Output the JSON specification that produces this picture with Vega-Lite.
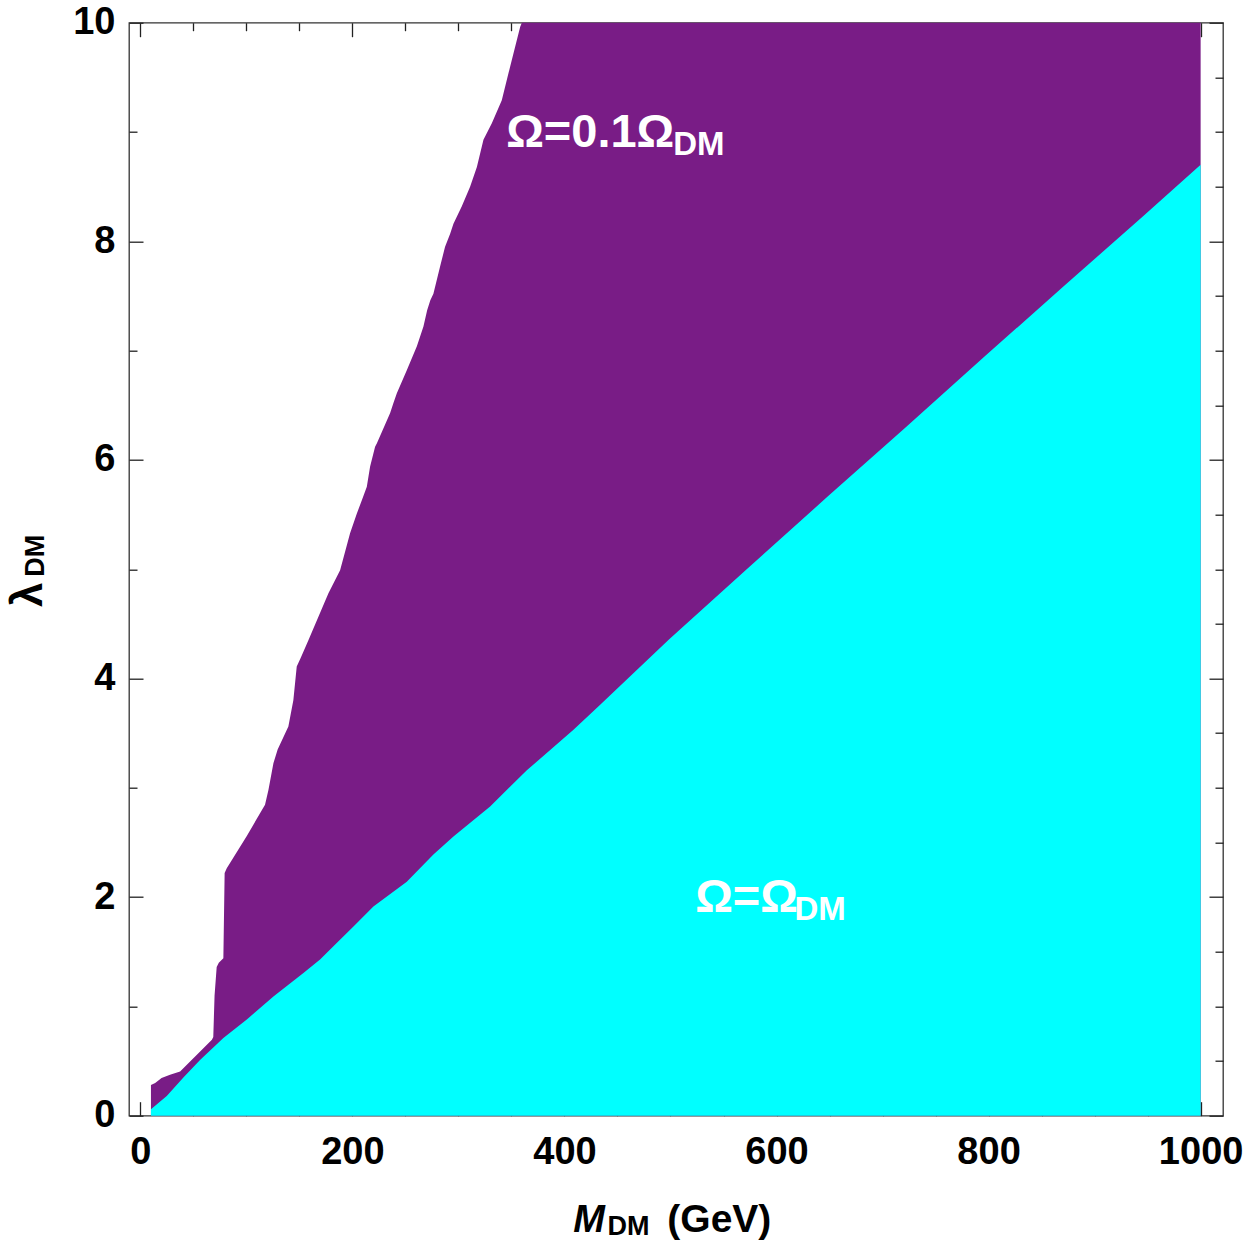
{
  "$schema": "https://vega.github.io/schema/vega-lite/v6.json",
  "width": 1094,
  "height": 1093,
  "autosize": {"type": "none"},
  "padding": {"left": 129, "top": 22.7, "right": 35, "bottom": 127.3},
  "background": "white",
  "config": {
    "view": {"stroke": "#333333", "strokeWidth": 1.3},
    "font": "Liberation Sans"
  },
  "datasets": {
    "tenth": [
      {"M": 10, "lam": 0.28}, {"M": 14, "lam": 0.30}, {"M": 20, "lam": 0.345}, {"M": 28, "lam": 0.375},
      {"M": 37.5, "lam": 0.405}, {"M": 67.5, "lam": 0.695}, {"M": 68.8, "lam": 0.72}, {"M": 70, "lam": 1.10},
      {"M": 72, "lam": 1.36}, {"M": 74, "lam": 1.40}, {"M": 78.3, "lam": 1.44}, {"M": 79.5, "lam": 2.22},
      {"M": 81.5, "lam": 2.265}, {"M": 100.4, "lam": 2.56}, {"M": 117.6, "lam": 2.845}, {"M": 120.8, "lam": 2.98},
      {"M": 125.5, "lam": 3.225}, {"M": 129.5, "lam": 3.35}, {"M": 139.6, "lam": 3.56}, {"M": 144.3, "lam": 3.80},
      {"M": 147.5, "lam": 4.11}, {"M": 151.3, "lam": 4.19}, {"M": 158.5, "lam": 4.35}, {"M": 177.4, "lam": 4.78},
      {"M": 188.4, "lam": 4.99}, {"M": 197.8, "lam": 5.33}, {"M": 204.2, "lam": 5.51}, {"M": 208.9, "lam": 5.63},
      {"M": 213.6, "lam": 5.755}, {"M": 216.7, "lam": 5.94}, {"M": 221.4, "lam": 6.12}, {"M": 223, "lam": 6.15},
      {"M": 235.6, "lam": 6.43}, {"M": 238.7, "lam": 6.52}, {"M": 241.9, "lam": 6.61}, {"M": 251.3, "lam": 6.82},
      {"M": 260.8, "lam": 7.04}, {"M": 267, "lam": 7.22}, {"M": 270.5, "lam": 7.37}, {"M": 273.5, "lam": 7.46},
      {"M": 276.4, "lam": 7.52}, {"M": 282.7, "lam": 7.77}, {"M": 287.4, "lam": 7.95}, {"M": 292.2, "lam": 8.07},
      {"M": 295.3, "lam": 8.16}, {"M": 303.2, "lam": 8.32}, {"M": 311, "lam": 8.50}, {"M": 317.4, "lam": 8.68},
      {"M": 323.6, "lam": 8.93}, {"M": 331.5, "lam": 9.08}, {"M": 340.9, "lam": 9.29}, {"M": 348.8, "lam": 9.60},
      {"M": 358.2, "lam": 9.96}, {"M": 359.8, "lam": 10}, {"M": 1000, "lam": 10}
    ],
    "full": [
      {"M": 10, "lam": 0.06}, {"M": 24.9, "lam": 0.18}, {"M": 40.6, "lam": 0.35}, {"M": 56.3, "lam": 0.51},
      {"M": 78.3, "lam": 0.71}, {"M": 100.4, "lam": 0.88}, {"M": 125.5, "lam": 1.09}, {"M": 153.8, "lam": 1.305},
      {"M": 169.5, "lam": 1.43}, {"M": 182.1, "lam": 1.55}, {"M": 201, "lam": 1.73}, {"M": 219.8, "lam": 1.915},
      {"M": 251.3, "lam": 2.14}, {"M": 276.4, "lam": 2.39}, {"M": 295.3, "lam": 2.555}, {"M": 329.9, "lam": 2.83},
      {"M": 364.5, "lam": 3.16}, {"M": 408.5, "lam": 3.53}, {"M": 433.7, "lam": 3.76}, {"M": 498.8, "lam": 4.36},
      {"M": 573.2, "lam": 5.01}, {"M": 647.7, "lam": 5.66}, {"M": 722.2, "lam": 6.30}, {"M": 796.7, "lam": 6.95},
      {"M": 871.1, "lam": 7.59}, {"M": 945.7, "lam": 8.23}, {"M": 1000, "lam": 8.70}
    ]
  },
  "resolve": {"axis": {"x": "independent", "y": "independent"}},
  "layer": [
    {
      "data": {"name": "tenth"},
      "mark": {"type": "area", "color": "#791C86", "interpolate": "linear"},
      "encoding": {
        "x": {
          "field": "M", "type": "quantitative",
          "scale": {"domain": [-10.7, 1021.1], "nice": false, "zero": false},
          "axis": {
            "orient": "bottom", "title": null, "domain": false, "grid": false,
            "values": [0,50,100,150,200,250,300,350,400,450,500,550,600,650,700,750,800,850,900,950,1000],
            "format": "d",
            "labelExpr": "datum.value % 200 === 0 ? datum.label : ''",
            "tickSize": {"condition": {"test": "datum.value % 200 === 0", "value": -14}, "value": -8},
            "tickColor": "#222222", "tickWidth": 1.3,
            "labelFont": "Liberation Sans", "labelFontSize": 38, "labelFontWeight": "bold", "labelColor": "black",
            "labelPadding": 32, "labelFlush": false, "labelOverlap": false, "labelBound": false
          }
        },
        "y": {
          "field": "lam", "type": "quantitative",
          "scale": {"domain": [0, 10], "nice": false},
          "axis": {
            "orient": "left", "title": null, "domain": false, "grid": false,
            "values": [0,0.5,1,1.5,2,2.5,3,3.5,4,4.5,5,5.5,6,6.5,7,7.5,8,8.5,9,9.5,10],
            "format": "d",
            "labelExpr": "datum.value % 2 === 0 ? datum.label : ''",
            "tickSize": {"condition": {"test": "datum.value % 2 === 0", "value": -14}, "value": -8},
            "tickColor": "#222222", "tickWidth": 1.3,
            "labelFont": "Liberation Sans", "labelFontSize": 38, "labelFontWeight": "bold", "labelColor": "black",
            "labelPadding": 28, "labelFlush": false, "labelOverlap": false, "labelBound": false
          }
        }
      }
    },
    {
      "data": {"name": "full"},
      "mark": {"type": "area", "color": "#00FFFF", "interpolate": "linear"},
      "encoding": {
        "x": {
          "field": "M", "type": "quantitative",
          "axis": {
            "orient": "top", "title": null, "domain": false, "grid": false, "labels": false,
            "values": [0,50,100,150,200,250,300,350,400,450,500,550,600,650,700,750,800,850,900,950,1000],
            "tickSize": {"condition": {"test": "datum.value % 200 === 0", "value": -14}, "value": -8},
            "tickColor": "#222222", "tickWidth": 1.3
          }
        },
        "y": {
          "field": "lam", "type": "quantitative",
          "axis": {
            "orient": "right", "title": null, "domain": false, "grid": false, "labels": false,
            "values": [0,0.5,1,1.5,2,2.5,3,3.5,4,4.5,5,5.5,6,6.5,7,7.5,8,8.5,9,9.5,10],
            "tickSize": {"condition": {"test": "datum.value % 2 === 0", "value": -14}, "value": -8},
            "tickColor": "#222222", "tickWidth": 1.3
          }
        }
      }
    },
    {
      "data": {"values": [
        {"text": "Ω=0.1Ω", "M": 345, "lam": 8.865},
        {"text": "Ω=Ω", "M": 523.3, "lam": 1.866}
      ]},
      "mark": {"type": "text", "color": "white", "font": "Liberation Sans", "fontWeight": "bold", "fontSize": 47, "align": "left", "baseline": "alphabetic"},
      "encoding": {
        "x": {"field": "M", "type": "quantitative", "axis": null},
        "y": {"field": "lam", "type": "quantitative", "axis": null},
        "text": {"field": "text"}
      }
    },
    {
      "data": {"values": [
        {"text": "DM", "M": 502.5, "lam": 8.79},
        {"text": "DM", "M": 617, "lam": 1.79}
      ]},
      "mark": {"type": "text", "color": "white", "font": "Liberation Sans", "fontWeight": "bold", "fontSize": 33, "align": "left", "baseline": "alphabetic"},
      "encoding": {
        "x": {"field": "M", "type": "quantitative", "axis": null},
        "y": {"field": "lam", "type": "quantitative", "axis": null},
        "text": {"field": "text"}
      }
    },
    {
      "data": {"values": [{"text": "M", "M": 408.2, "lam": -1.061}]},
      "mark": {"type": "text", "color": "black", "font": "Liberation Sans", "fontWeight": "bold", "fontStyle": "italic", "fontSize": 38, "align": "left", "baseline": "alphabetic"},
      "encoding": {
        "x": {"field": "M", "type": "quantitative", "axis": null},
        "y": {"field": "lam", "type": "quantitative", "axis": null},
        "text": {"field": "text"}
      }
    },
    {
      "data": {"values": [{"text": "(GeV)", "M": 497, "lam": -1.061}]},
      "mark": {"type": "text", "color": "black", "font": "Liberation Sans", "fontWeight": "bold", "fontSize": 39, "align": "left", "baseline": "alphabetic"},
      "encoding": {
        "x": {"field": "M", "type": "quantitative", "axis": null},
        "y": {"field": "lam", "type": "quantitative", "axis": null},
        "text": {"field": "text"}
      }
    },
    {
      "data": {"values": [{"text": "DM", "M": 440.5, "lam": -1.095}]},
      "mark": {"type": "text", "color": "black", "font": "Liberation Sans", "fontWeight": "bold", "fontSize": 27, "align": "left", "baseline": "alphabetic"},
      "encoding": {
        "x": {"field": "M", "type": "quantitative", "axis": null},
        "y": {"field": "lam", "type": "quantitative", "axis": null},
        "text": {"field": "text"}
      }
    },
    {
      "data": {"values": [{"text": "λ", "M": -92.7, "lam": 4.655}]},
      "mark": {"type": "text", "color": "black", "font": "Liberation Sans", "fontWeight": "bold", "fontSize": 44, "angle": 270, "align": "left", "baseline": "alphabetic"},
      "encoding": {
        "x": {"field": "M", "type": "quantitative", "axis": null},
        "y": {"field": "lam", "type": "quantitative", "axis": null},
        "text": {"field": "text"}
      }
    },
    {
      "data": {"values": [{"text": "DM", "M": -90.8, "lam": 4.93}]},
      "mark": {"type": "text", "color": "black", "font": "Liberation Sans", "fontWeight": "bold", "fontSize": 27, "angle": 270, "align": "left", "baseline": "alphabetic"},
      "encoding": {
        "x": {"field": "M", "type": "quantitative", "axis": null},
        "y": {"field": "lam", "type": "quantitative", "axis": null},
        "text": {"field": "text"}
      }
    }
  ]
}
